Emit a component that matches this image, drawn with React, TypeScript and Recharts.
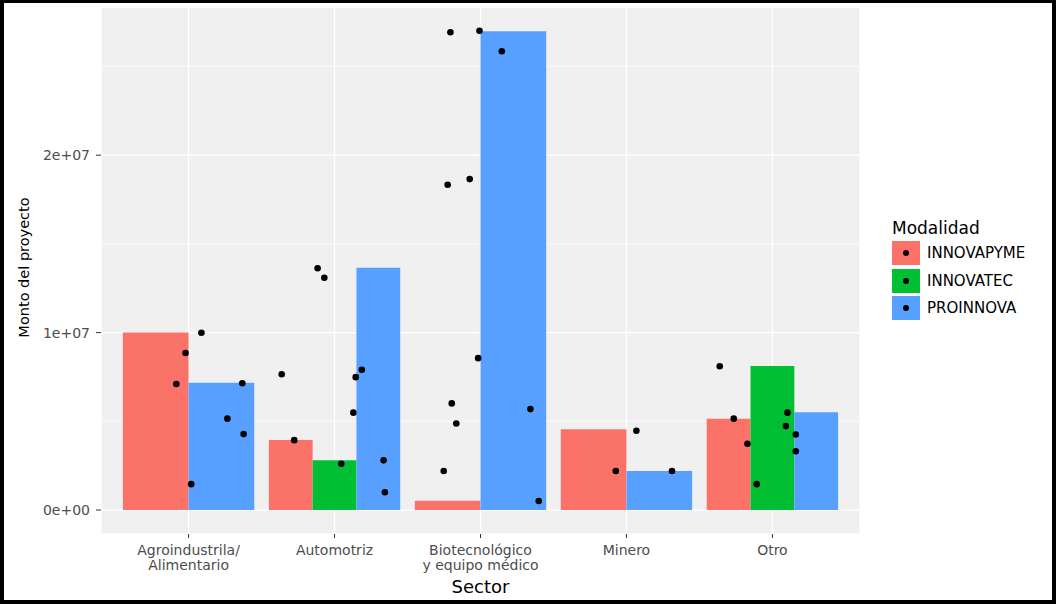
import React from 'react';
import {
  ComposedChart,
  XAxis,
  YAxis,
  CartesianGrid,
  ReferenceArea,
  Scatter,
} from 'recharts';

const SECTORS = ['Agroindustrila/\nAlimentario', 'Automotriz', 'Biotecnológico\ny equipo médico', 'Minero', 'Otro'];
const MODALIDADES = ['INNOVAPYME', 'INNOVATEC', 'PROINNOVA'];
const COLORS = ['#FA7268', '#00BF33', '#58A0FF'];

// bar heights per sector (null = no project of that kind)
const INNOVAPYME = [10.0e6, 3.95e6, 0.53e6, 4.55e6, 5.15e6];
const INNOVATEC = [null, 2.8e6, null, null, 8.12e6];
const PROINNOVA = [7.18e6, 13.66e6, 26.98e6, 2.2e6, 5.51e6];

// jittered points: sector index (1-5), horizontal jitter, project amount
const POINT_SECTOR = [
  1, 1, 1, 1, 1, 1, 1,
  2, 2, 2, 2, 2, 2, 2, 2, 2, 2,
  3, 3, 3, 3, 3, 3, 3, 3, 3, 3, 3,
  4, 4, 4,
  5, 5, 5, 5, 5, 5, 5, 5,
];
const POINT_JITTER = [
  -0.084, -0.021, 0.088, 0.018, 0.368, 0.266, 0.377,
  -0.116, -0.07, -0.362, -0.276, 0.046, 0.129, 0.145, 0.187, 0.336, 0.345,
  -0.206, -0.007, 0.146, -0.225, -0.074, -0.016, -0.197, -0.166, -0.252, 0.342, 0.399,
  -0.073, 0.068, 0.312,
  -0.361, -0.265, -0.171, -0.108, 0.103, 0.092, 0.16, 0.16,
];
const POINT_MONTO = [
  7.1e6, 8.85e6, 9.99e6, 1.46e6, 7.15e6, 5.15e6, 4.28e6,
  13.63e6, 13.09e6, 7.65e6, 3.94e6, 2.61e6, 5.49e6, 7.49e6, 7.91e6, 2.8e6, 1.0e6,
  26.93e6, 27.01e6, 25.86e6, 18.33e6, 18.65e6, 8.56e6, 6.01e6, 4.88e6, 2.2e6, 5.69e6, 0.51e6,
  2.2e6, 4.47e6, 2.2e6,
  8.1e6, 5.15e6, 3.74e6, 1.46e6, 5.49e6, 4.73e6, 4.26e6, 3.31e6,
];

const Y_DOMAIN = [-1.35e6, 28.35e6];
const Y_TICKS = [0, 1e7, 2e7];
const Y_TICK_LABELS = ['0e+00', '1e+07', '2e+07'];
const Y_MINOR = [5e6, 1.5e7, 2.5e7];
const X_TICKS = [1, 2, 3, 4, 5];

const FONT = '"DejaVu Sans", sans-serif';
const DODGE_WIDTH = 0.9;

interface BarRect {
  key: string;
  x1: number;
  x2: number;
  value: number;
  color: string;
}

// ggplot-style dodge: the 0.9 slot is split among the groups present in each sector
function buildBars(): BarRect[] {
  const series = [INNOVAPYME, INNOVATEC, PROINNOVA];
  const out: BarRect[] = [];
  SECTORS.forEach((_, i) => {
    const present = series
      .map((s, k) => ({ k, v: s[i] }))
      .filter((d) => d.v != null) as { k: number; v: number }[];
    const w = DODGE_WIDTH / present.length;
    const start = i + 1 - DODGE_WIDTH / 2;
    present.forEach((d, j) => {
      out.push({
        key: `${i}-${d.k}`,
        x1: start + j * w,
        x2: start + (j + 1) * w,
        value: d.v,
        color: COLORS[d.k],
      });
    });
  });
  return out;
}

const points = POINT_MONTO.map((y, i) => ({ x: POINT_SECTOR[i] + POINT_JITTER[i], y }));

// minor grid rows, placed on the same linear y range as the axis
function minorRows({ offset }: any) {
  const [lo, hi] = Y_DOMAIN;
  return Y_MINOR.map((v) => offset.top + ((hi - v) / (hi - lo)) * offset.height);
}

function SectorTick({ x, y, payload }: any) {
  const lines = SECTORS[payload.value - 1].split('\n');
  return (
    <text x={x} y={y} textAnchor="middle" fill="#4D4D4D" fontSize={14} fontFamily={FONT}>
      {lines.map((l, i) => (
        <tspan key={i} x={x} dy={i === 0 ? 17 : 15.3}>
          {l}
        </tspan>
      ))}
    </text>
  );
}

function Legend() {
  return (
    <div style={{ position: 'absolute', left: 892, top: 216, fontFamily: FONT, color: '#000' }}>
      <div style={{ fontSize: 17, lineHeight: '24px', marginBottom: 1 }}>Modalidad</div>
      {MODALIDADES.map((m, i) => (
        <div key={m} style={{ display: 'flex', alignItems: 'center', height: 24, marginBottom: 3.6 }}>
          <div
            style={{
              width: 28,
              height: 24,
              background: COLORS[i],
              position: 'relative',
              marginRight: 7,
            }}
          >
            <div
              style={{
                position: 'absolute',
                left: 11,
                top: 9,
                width: 6,
                height: 6,
                borderRadius: 3,
                background: '#000',
              }}
            />
          </div>
          <span style={{ fontSize: 15 }}>{m}</span>
        </div>
      ))}
    </div>
  );
}

export default function App() {
  const bars = buildBars();
  return (
    <div style={{ position: 'relative', width: 1056, height: 604, background: '#000' }}>
      <style>{'body{margin:0}'}</style>
      <div style={{ position: 'absolute', left: 4, top: 3, width: 1048, height: 597, background: '#fff' }} />
      <div style={{ position: 'absolute', left: 0, top: 0 }}>
        <ComposedChart width={1056} height={604} margin={{ top: 7, right: 196, bottom: 0, left: 0 }}>
          <CartesianGrid fill="#F0F0F0" stroke="#FFFFFF" strokeWidth={1.3} />
          <CartesianGrid
            vertical={false}
            stroke="#FFFFFF"
            strokeWidth={0.7}
            horizontalCoordinatesGenerator={minorRows}
          />
          <XAxis
            type="number"
            dataKey="x"
            domain={[0.4, 5.6]}
            ticks={X_TICKS}
            allowDataOverflow
            axisLine={false}
            tickLine={{ stroke: '#333333' }}
            tickSize={4}
            tickMargin={0}
            height={70}
            tick={<SectorTick />}
            label={{
              content: ({ viewBox }: any) => (
                <text
                  x={viewBox.x + viewBox.width / 2}
                  y={viewBox.y + 59}
                  textAnchor="middle"
                  fontSize={18}
                  fontFamily={FONT}
                  fill="#000"
                >
                  Sector
                </text>
              ),
            }}
          />
          <YAxis
            type="number"
            dataKey="y"
            domain={Y_DOMAIN}
            ticks={Y_TICKS}
            allowDataOverflow
            width={101}
            axisLine={false}
            tickLine={{ stroke: '#333333' }}
            tickSize={5}
            tickMargin={6}
            tick={{ fill: '#4D4D4D', fontSize: 14, fontFamily: FONT }}
            tickFormatter={(v: number) => Y_TICK_LABELS[Y_TICKS.indexOf(v)]}
            label={{
              content: ({ viewBox }: any) => {
                const cx = 29;
                const cy = viewBox.y + viewBox.height / 2 - 3;
                return (
                  <text
                    x={cx}
                    y={cy}
                    transform={`rotate(-90 ${cx} ${cy})`}
                    textAnchor="middle"
                    fontSize={14.5}
                    fontFamily={FONT}
                    fill="#000"
                  >
                    Monto del proyecto
                  </text>
                );
              },
            }}
          />
          {bars.map((b) => (
            <ReferenceArea
              key={b.key}
              x1={b.x1}
              x2={b.x2}
              y1={0}
              y2={b.value}
              fill={b.color}
              fillOpacity={1}
              stroke="none"
            />
          ))}
          <Scatter
            data={points}
            isAnimationActive={false}
            shape={(p: any) => <circle cx={p.cx} cy={p.cy} r={3.3} fill="#000" />}
          />
        </ComposedChart>
      </div>
      <Legend />
    </div>
  );
}
